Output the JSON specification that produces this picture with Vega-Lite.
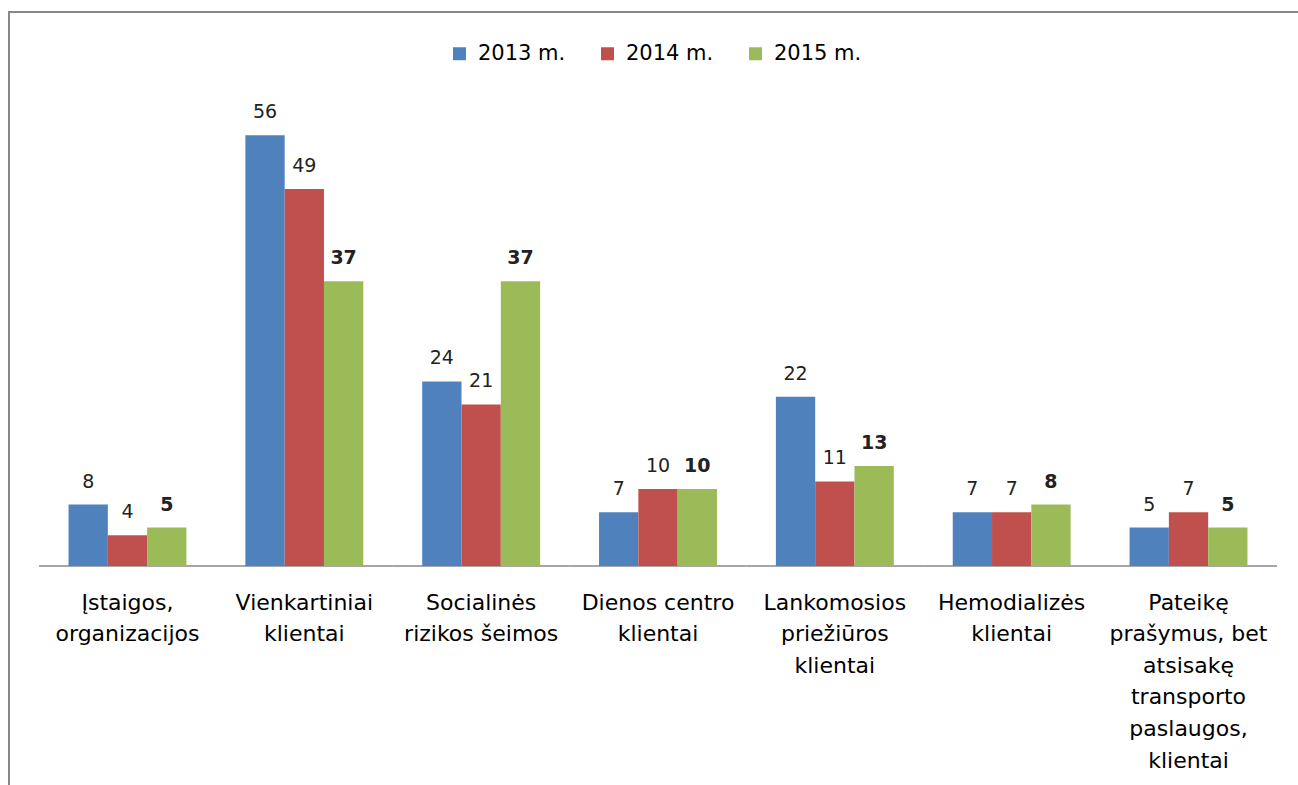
{
  "$schema": "https://vega.github.io/schema/vega-lite/v6.json",
  "autosize": {"type": "none"},
  "padding": {"left": 9, "top": 12, "right": 0, "bottom": 0},
  "width": 1298,
  "height": 788,
  "background": "white",
  "config": {
    "view": {"stroke": "#878787", "strokeWidth": 2},
    "font": "DejaVu Sans"
  },
  "data": {
    "values": [
      {"cat": "Įstaigos,|organizacijos", "year": "2013 m.", "value": 8},
      {"cat": "Įstaigos,|organizacijos", "year": "2014 m.", "value": 4},
      {"cat": "Įstaigos,|organizacijos", "year": "2015 m.", "value": 5},
      {"cat": "Vienkartiniai|klientai", "year": "2013 m.", "value": 56},
      {"cat": "Vienkartiniai|klientai", "year": "2014 m.", "value": 49},
      {"cat": "Vienkartiniai|klientai", "year": "2015 m.", "value": 37},
      {"cat": "Socialinės|rizikos šeimos", "year": "2013 m.", "value": 24},
      {"cat": "Socialinės|rizikos šeimos", "year": "2014 m.", "value": 21},
      {"cat": "Socialinės|rizikos šeimos", "year": "2015 m.", "value": 37},
      {"cat": "Dienos centro|klientai", "year": "2013 m.", "value": 7},
      {"cat": "Dienos centro|klientai", "year": "2014 m.", "value": 10},
      {"cat": "Dienos centro|klientai", "year": "2015 m.", "value": 10},
      {"cat": "Lankomosios|priežiūros|klientai", "year": "2013 m.", "value": 22},
      {"cat": "Lankomosios|priežiūros|klientai", "year": "2014 m.", "value": 11},
      {"cat": "Lankomosios|priežiūros|klientai", "year": "2015 m.", "value": 13},
      {"cat": "Hemodializės|klientai", "year": "2013 m.", "value": 7},
      {"cat": "Hemodializės|klientai", "year": "2014 m.", "value": 7},
      {"cat": "Hemodializės|klientai", "year": "2015 m.", "value": 8},
      {"cat": "Pateikę|prašymus, bet|atsisakę|transporto|paslaugos,|klientai", "year": "2013 m.", "value": 5},
      {"cat": "Pateikę|prašymus, bet|atsisakę|transporto|paslaugos,|klientai", "year": "2014 m.", "value": 7},
      {"cat": "Pateikę|prašymus, bet|atsisakę|transporto|paslaugos,|klientai", "year": "2015 m.", "value": 5}
    ]
  },
  "encoding": {
    "x": {
      "field": "cat",
      "type": "nominal",
      "sort": null,
      "scale": {"paddingInner": 0, "paddingOuter": 0.17},
      "axis": {
        "orient": "bottom",
        "offset": -234,
        "title": null,
        "domain": false,
        "ticks": false,
        "grid": false,
        "labelAngle": 0,
        "labelFont": "DejaVu Sans",
        "labelFontSize": 22,
        "labelColor": "#000000",
        "labelLineHeight": 31.6,
        "labelPadding": 26,
        "labelLimit": 0,
        "labelOverlap": false,
        "labelExpr": "split(datum.value, '|')"
      }
    }
  },
  "layer": [
    {
      "transform": [{"filter": "datum.year == '2013 m.'"}],
      "mark": {"type": "rule", "color": "#888888", "strokeWidth": 1.5},
      "encoding": {
        "x": {"field": "cat", "type": "nominal", "sort": null, "bandPosition": 0},
        "x2": {"field": "cat", "bandPosition": 1},
        "y": {"datum": 0, "type": "quantitative", "scale": {"domain": [-30.4, 72], "nice": false, "zero": false}, "axis": null}
      }
    },
    {
      "mark": {"type": "bar"},
      "encoding": {
        "xOffset": {"field": "year", "type": "nominal", "scale": {"paddingInner": 0, "paddingOuter": 0.75}},
        "y": {"field": "value", "type": "quantitative", "scale": {"domain": [-30.4, 72], "nice": false, "zero": false}, "axis": null},
        "y2": {"datum": 0},
        "color": {
          "field": "year",
          "type": "nominal",
          "scale": {"domain": ["2013 m.", "2014 m.", "2015 m."], "range": ["#4F81BD", "#C0504D", "#9BBB59"]},
          "legend": {
            "title": null,
            "orient": "none",
            "direction": "horizontal",
            "legendX": 440,
            "legendY": 31,
            "symbolType": "square",
            "symbolSize": 169,
            "symbolStrokeWidth": 0,
            "labelFont": "DejaVu Sans",
            "labelFontSize": 21,
            "labelColor": "#000000",
            "labelOffset": 8,
            "columnPadding": 31
          }
        }
      }
    },
    {
      "mark": {
        "type": "text",
        "baseline": "alphabetic",
        "dy": -17,
        "fontSize": 19,
        "font": "DejaVu Sans",
        "color": "#222222",
        "fontWeight": {"expr": "datum.year == '2015 m.' ? 'bold' : 'normal'"}
      },
      "encoding": {
        "xOffset": {"field": "year", "type": "nominal", "scale": {"paddingInner": 0, "paddingOuter": 0.75}},
        "y": {"field": "value", "type": "quantitative", "scale": {"domain": [-30.4, 72], "nice": false, "zero": false}, "axis": null},
        "text": {"field": "value", "type": "quantitative"}
      }
    }
  ]
}
